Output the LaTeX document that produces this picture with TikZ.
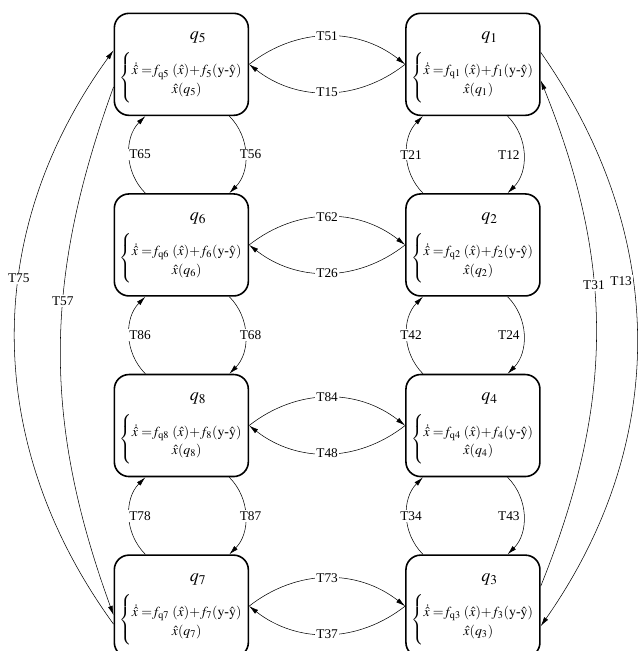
\documentclass[tikz,border=0pt]{standalone}
\usepackage{amsmath}
\usepackage{mathptmx}
\usepackage[no-math]{fontspec}
\setmainfont{Liberation Serif}
\usetikzlibrary{positioning, arrows.meta}

\newcommand{\stateeq}[1]{%
    {\fontsize{13.5}{16}\selectfont\hspace*{25pt}\rule{0pt}{11.5pt}$q_{#1}$}\\[5pt]
    $\left\{\begin{array}{@{}c@{}}
        \rule{0pt}{17.5pt}\dot{\hat{x}}\;{=}f_{\mathrm{q}#1}\;(\hat{x}){+}f_{#1}(\mathrm{y}\mbox{-}\hat{\mathrm{y}})\\[1.5pt]
        \hat{x}(q_{#1})\rule[-8pt]{0pt}{8pt}
    \end{array}\right.$}

\begin{document}
\begin{tikzpicture}[
    node distance=57.75pt and 117pt,
    state/.style={
        draw, rounded corners=11pt, line width=1.2pt,
        minimum width=100.5pt, minimum height=76.5pt,
        align=center, inner sep=1pt,
        font=\fontsize{10.4}{12.5}\selectfont
    },
    arrow/.style={-{Latex[length=7pt,width=3.6pt]}, line width=0.4pt},
    tlabel/.style={fill=white, inner sep=1pt}
]

% ── CANVAS ─────────────────────────────────────────────────────
\useasboundingbox (0,0) rectangle (482.25pt,488.25pt);

% ── LEFT COLUMN ────────────────────────────────────────────────
\node[state] (q5) at (136pt,440pt) {\stateeq{5}};
\node[state, below=of q5] (q6) {\stateeq{6}};
\node[state, below=of q6] (q8) {\stateeq{8}};
\node[state, below=of q8] (q7) {\stateeq{7}};

% ── RIGHT COLUMN ───────────────────────────────────────────────
\node[state, right=of q5] (q1) {\stateeq{1}};
\node[state, below=of q1] (q2) {\stateeq{2}};
\node[state, below=of q2] (q4) {\stateeq{4}};
\node[state, below=of q4] (q3) {\stateeq{3}};

% ── ACROSS ─────────────────────────────────────────────────────
\draw[arrow] (q5.east) to[bend left=38] node[tlabel]{T51} (q1.west);
\draw[arrow] (q1.west) to[bend left=38] node[tlabel]{T15} (q5.east);
\draw[arrow] (q6.east) to[bend left=38] node[tlabel]{T62} (q2.west);
\draw[arrow] (q2.west) to[bend left=38] node[tlabel]{T26} (q6.east);
\draw[arrow] (q8.east) to[bend left=38] node[tlabel]{T84} (q4.west);
\draw[arrow] (q4.west) to[bend left=38] node[tlabel]{T48} (q8.east);
\draw[arrow] (q7.east) to[bend left=38] node[tlabel]{T73} (q3.west);
\draw[arrow] (q3.west) to[bend left=38] node[tlabel]{T37} (q7.east);

% ── DOWN THE LEFT COLUMN ───────────────────────────────────────
\draw[arrow] ([xshift=-27pt]q6.north) to[bend left=45]
    node[tlabel, xshift=8pt]{T65} ([xshift=-27pt]q5.south);
\draw[arrow] ([xshift=36pt]q5.south) to[bend left=45]
    node[tlabel, xshift=4pt]{T56} ([xshift=36pt]q6.north);
\draw[arrow] ([xshift=-27pt]q8.north) to[bend left=45]
    node[tlabel, xshift=8pt]{T86} ([xshift=-27pt]q6.south);
\draw[arrow] ([xshift=36pt]q6.south) to[bend left=45]
    node[tlabel, xshift=4pt]{T68} ([xshift=36pt]q8.north);
\draw[arrow] ([xshift=-27pt]q7.north) to[bend left=45]
    node[tlabel, xshift=8pt]{T78} ([xshift=-27pt]q8.south);
\draw[arrow] ([xshift=36pt]q8.south) to[bend left=45]
    node[tlabel, xshift=4pt]{T87} ([xshift=36pt]q7.north);

% ── DOWN THE RIGHT COLUMN ──────────────────────────────────────
\draw[arrow] ([xshift=-37.5pt]q2.north) to[bend left=45]
    node[tlabel, xshift=3pt]{T21} ([xshift=-37.5pt]q1.south);
\draw[arrow] ([xshift=26pt]q1.south) to[bend left=45]
    node[tlabel, xshift=-11pt]{T12} ([xshift=26pt]q2.north);
\draw[arrow] ([xshift=-37.5pt]q4.north) to[bend left=45]
    node[tlabel, xshift=3pt]{T42} ([xshift=-37.5pt]q2.south);
\draw[arrow] ([xshift=26pt]q2.south) to[bend left=45]
    node[tlabel, xshift=-11pt]{T24} ([xshift=26pt]q4.north);
\draw[arrow] ([xshift=-37.5pt]q3.north) to[bend left=45]
    node[tlabel, xshift=3pt]{T34} ([xshift=-37.5pt]q4.south);
\draw[arrow] ([xshift=26pt]q4.south) to[bend left=45]
    node[tlabel, xshift=-11pt]{T43} ([xshift=26pt]q3.north);

% ── LONG ARCS ──────────────────────────────────────────────────
\draw[arrow] ([yshift=-13.5pt]q7.west) to[out=126, in=234]
    node[tlabel, pos=0.6]{T75} ([yshift=10.5pt]q5.west);
\draw[arrow] ([yshift=-17pt]q5.west) to[out=250, in=110]
    node[tlabel, pos=0.4]{T57} ([yshift=-6.75pt]q7.west);
\draw[arrow] ([yshift=9pt]q1.east) to[out=-55, in=55]
    node[tlabel, pos=0.4, xshift=-9pt]{T13} ([yshift=-15pt]q3.east);
\draw[arrow] ([yshift=15pt]q3.east) to[out=68, in=-68]
    node[tlabel, pos=0.6]{T31} ([yshift=-12pt]q1.east);

\end{tikzpicture}
\end{document}
